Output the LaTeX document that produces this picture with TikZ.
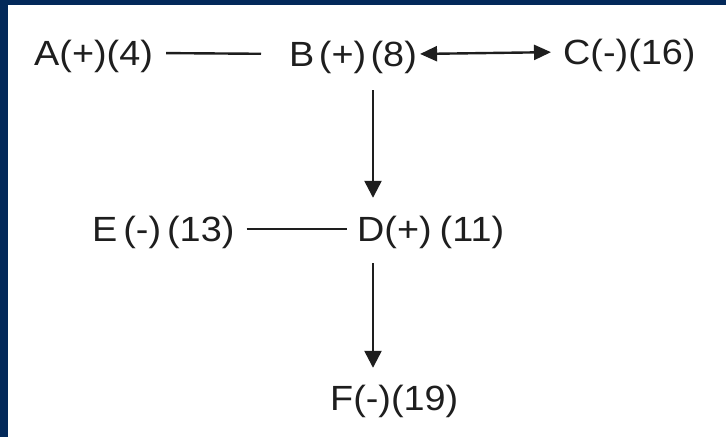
\documentclass[tikz,border=0pt]{standalone}
\usepackage{fontspec}
\setmainfont[FakeStretch=1.08]{Liberation Sans}
\usetikzlibrary{arrows.meta}
\definecolor{frameblue}{HTML}{03295A}
\definecolor{inkgray}{HTML}{1E1E1E}
\begin{document}
\begin{tikzpicture}[x=1pt,y=1pt,
  lbl/.style={anchor=base west,inner sep=0pt,text height=26pt,text depth=0pt,
    font=\fontsize{35}{40}\selectfont,text=inkgray},
  conn/.style={draw=inkgray,line width=2.4pt},
  arr/.style={conn,-{Triangle[length=17pt,width=17pt]}},
  darr/.style={conn,{Triangle[length=17pt,width=15pt]}-{Triangle[length=17pt,width=15pt]}}]
\fill[frameblue] (0,0) rectangle (726,437);
\fill[white] (8,0) rectangle (726,432);
\useasboundingbox (0,0) rectangle (726,437);
\node[lbl] (A) at (34,371) {A(+)(4)};
\node[lbl] (B) at (289,370) {B\hspace{4.5pt}(+)\hspace{4.5pt}(8)};
\node[lbl] (C) at (563,372) {C(-)(16)};
\node[lbl] (E) at (92,195) {E\hspace{6pt}(-)\hspace{6pt}(13)};
\node[lbl] (D) at (357,195) {D(+)\hspace{8pt}(11)};
\node[lbl] (F) at (330,27) {F(-)(19)};
\draw[conn,shorten <=13pt,shorten >=28pt] (A.east) -- (B.west);
\draw[darr,shorten <=3pt,shorten >=12pt] (B.east) -- (C.west);
\draw[conn,shorten <=12pt,shorten >=10pt] (E.east) -- (D.west);
\draw[arr] ([xshift=84pt,yshift=-23pt]B.south west) -- ([xshift=16pt,yshift=18pt]D.north west);
\draw[arr] ([xshift=16pt,yshift=-21pt]D.south west) -- ([xshift=43pt,yshift=16pt]F.north west);
\end{tikzpicture}
\end{document}
